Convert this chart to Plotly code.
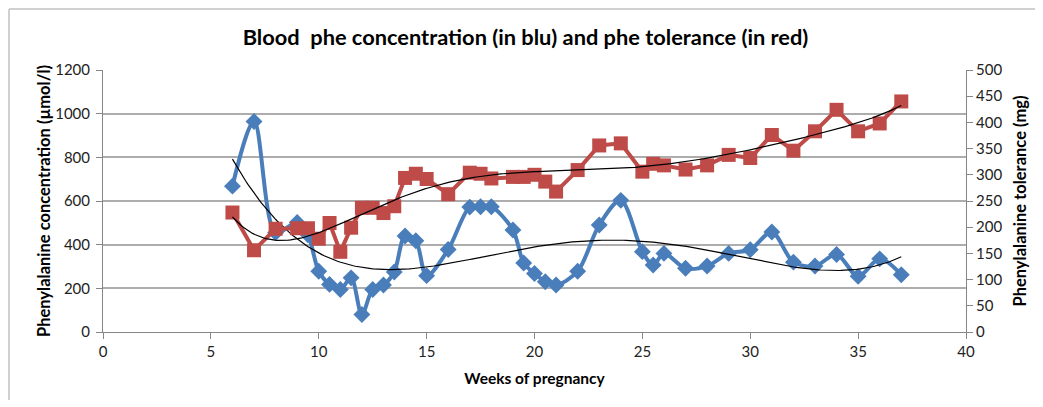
import numpy as np
import plotly.graph_objects as go

# Blood phe concentration (µmol/l), left axis
weeks_phe = [6, 7, 8, 9, 9.5, 10, 10.5, 11, 11.5, 12, 12.5, 13, 13.5, 14, 14.5, 15,
             16, 17, 17.5, 18, 19, 19.5, 20, 20.5, 21, 22, 23, 24, 25, 25.5, 26,
             27, 28, 29, 30, 31, 32, 33, 34, 35, 36, 37]
phe_conc = [668, 964, 455, 502, 445, 278, 218, 195, 248, 80, 195, 215, 275, 440, 418, 258,
            378, 572, 574, 574, 467, 316, 268, 230, 215, 278, 490, 603, 368, 307, 360,
            292, 302, 360, 377, 458, 320, 302, 355, 255, 335, 262]

# Phe tolerance (mg), right axis
weeks_tol = [6, 7, 8, 9, 9.5, 10, 10.5, 11, 11.5, 12, 12.5, 13, 13.5, 14, 14.5, 15,
             16, 17, 17.5, 18, 19, 19.5, 20, 20.5, 21, 22, 23, 24, 25, 25.5, 26,
             27, 28, 29, 30, 31, 32, 33, 34, 35, 36, 37]
phe_tol = [228, 156, 197, 198, 198, 178, 208, 153, 199, 237, 237, 227, 240, 294, 302, 292,
           263, 304, 302, 293, 296, 296, 300, 287, 268, 309, 356, 360, 306, 321, 318,
           310, 318, 338, 332, 376, 346, 383, 424, 383, 398, 440]

x_ticks = [0, 5, 10, 15, 20, 25, 30, 35, 40]
trend_degree_conc = 4
trend_degree_tol = 6

BLUE = "#4A7EBB"
RED = "#BE4B48"
GRID = "#ADADAD"
AXIS = "#868686"
FONT = "Lato"

fig = go.Figure()

fig.add_trace(go.Scatter(
    x=weeks_phe, y=phe_conc, mode="lines+markers",
    line=dict(color=BLUE, width=4, shape="spline", smoothing=0.9),
    marker=dict(symbol="diamond", size=13, color=BLUE),
    name="Phe concentration", yaxis="y"))

fig.add_trace(go.Scatter(
    x=weeks_tol, y=phe_tol, mode="lines+markers",
    line=dict(color=RED, width=4),
    marker=dict(symbol="square", size=14, color=RED),
    name="Phe tolerance", yaxis="y2"))

# polynomial trendlines computed from the data
xt_b = np.linspace(min(weeks_phe), max(weeks_phe), 300)
cb = np.polyfit(weeks_phe, phe_conc, trend_degree_conc)
fig.add_trace(go.Scatter(x=xt_b, y=np.polyval(cb, xt_b), mode="lines",
                         line=dict(color="black", width=1.2), yaxis="y",
                         hoverinfo="skip", showlegend=False))
xt_r = np.linspace(min(weeks_tol), max(weeks_tol), 300)
cr = np.polyfit(weeks_tol, phe_tol, trend_degree_tol)
fig.add_trace(go.Scatter(x=xt_r, y=np.polyval(cr, xt_r), mode="lines",
                         line=dict(color="black", width=1.2), yaxis="y2",
                         hoverinfo="skip", showlegend=False))

tick_font = dict(family=FONT, size=15, color="#222222")
title_font = dict(family=FONT, size=16.5, color="black")

# the page body adds an 8px offset, so the figure is 8px smaller on each side
fig.update_layout(
    width=1035, height=399,
    paper_bgcolor="white", plot_bgcolor="white",
    margin=dict(l=95, r=77, t=62, b=75, autoexpand=False),
    showlegend=False,
    title=dict(text="<b>Blood  phe concentration (in blu) and phe tolerance (in red)</b>",
               x=0.5, xanchor="center", y=0.927, yanchor="middle",
               font=dict(family=FONT, size=21.8, color="black")),
    xaxis=dict(range=[0, 40], tickvals=x_ticks, showgrid=False, zeroline=False,
               showline=True, linecolor=AXIS, linewidth=1, automargin=False,
               ticks="outside", ticklen=6, tickcolor=AXIS,
               tickfont=tick_font,
               title=dict(text="<b>Weeks of pregnancy</b>",
                          font=dict(family=FONT, size=15.5, color="black"), standoff=14)),
    yaxis=dict(range=[0, 1200], dtick=200, showgrid=True, gridcolor=GRID, gridwidth=1.5,
               zeroline=False, showline=True, linecolor=AXIS, linewidth=1, automargin=False,
               ticks="outside", ticklen=6, tickcolor=AXIS, tickfont=tick_font,
               ticklabelstandoff=3,
               title=dict(text="<b>Phenylalanine concentration (µmol/l)</b>",
                          font=title_font, standoff=0)),
    yaxis2=dict(range=[0, 500], dtick=50, overlaying="y", side="right",
                showgrid=False, zeroline=False, showline=True, linecolor=AXIS, linewidth=1,
                automargin=False,
                ticks="outside", ticklen=6, tickcolor=AXIS, tickfont=tick_font,
                title=dict(text="<b>Phenylalanine tolerance (mg)</b>",
                           font=title_font, standoff=13)),
)

# outer chart frame (top and left edges visible in the reference)
fig.add_shape(type="line", xref="paper", yref="paper",
              x0=-0.1089, x1=1.2, y0=1.2328, y1=1.2328,
              line=dict(color="#D0D0D0", width=2))
fig.add_shape(type="line", xref="paper", yref="paper",
              x0=-0.1089, x1=-0.1089, y0=1.2328, y1=-0.2595,
              line=dict(color="#D0D0D0", width=2))

fig.write_html("out.html")
